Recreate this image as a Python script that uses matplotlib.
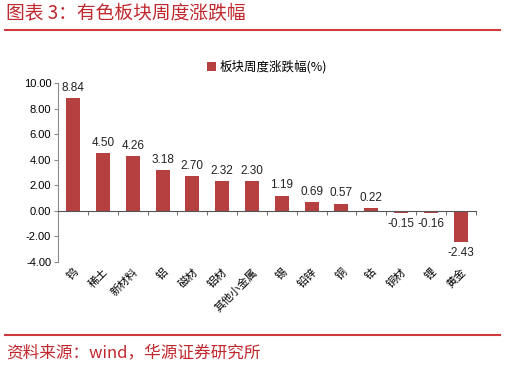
import numpy as np
import matplotlib
matplotlib.use("Agg")
import matplotlib.pyplot as plt
from matplotlib.lines import Line2D

plt.rcParams['font.family'] = ['Noto Sans CJK SC', 'DejaVu Sans']
plt.rcParams['axes.unicode_minus'] = False

# ── dados ─────────────────────────────────────────────────────────────────────
categorias = ['钨', '稀土', '新材料', '铝', '磁材', '铝材', '其他小金属',
              '锡', '铅锌', '铜', '钴', '铜材', '锂', '黄金']
valores = [8.84, 4.50, 4.26, 3.18, 2.70, 2.32, 2.30,
           1.19, 0.69, 0.57, 0.22, -0.15, -0.16, -2.43]
yticks = [-4, -2, 0, 2, 4, 6, 8, 10]

TITULO = '图表 3：有色板块周度涨跌幅'
FONTE = '资料来源：wind，华源证券研究所'
LEGENDA = '板块周度涨跌幅(%)'

COR = {"barra": "#B5403F", "titulo": "#C0282D", "linha": "#D0393E",
       "eixo": "#8C8C8C", "texto": "#222222"}
LATIN = ['Liberation Sans', 'DejaVu Sans']

fig = plt.figure(figsize=(5.06, 3.69), dpi=100)
ax = fig.add_axes([0.115, 0.29, 0.825, 0.485])

x = np.arange(len(categorias))
barras = ax.bar(x, valores, width=0.47, color=COR['barra'], zorder=2)

for xi, v in zip(x, valores):
    if v >= 0:
        ax.annotate(f"{v:.2f}", (xi, v), xytext=(0, 3), textcoords='offset points',
                    ha='center', va='bottom', fontsize=8.5, color=COR['texto'],
                    family=LATIN)
    else:
        ax.annotate(f"-{abs(v):.2f}", (xi, v), xytext=(0, -4), textcoords='offset points',
                    ha='center', va='top', fontsize=8.5, color=COR['texto'],
                    family=LATIN)

ax.set_xlim(-0.5, len(categorias) - 0.5)
ax.set_ylim(-4, 10)
ax.set_yticks(yticks)
ax.set_yticklabels([f"{t:.2f}" if t >= 0 else f"-{abs(t):.2f}" for t in yticks],
                   fontsize=8, family=LATIN)

for s in ['top', 'right']:
    ax.spines[s].set_visible(False)
ax.spines['left'].set_color(COR['eixo'])
ax.spines['bottom'].set_position(('data', 0))
ax.spines['bottom'].set_color('#555555')
ax.tick_params(axis='y', length=3, color=COR['eixo'], pad=2)

# ticks maiores: rótulos abaixo do gráfico; menores: marcas na linha do zero
ax.set_xticks(x)
ax.set_xticklabels(categorias, rotation=45, ha='right', va='top',
                   rotation_mode='anchor', fontsize=8)
ax.tick_params(axis='x', which='major', length=0, pad=40)
ax.set_xticks(np.arange(len(categorias) + 1) - 0.5, minor=True)
ax.tick_params(axis='x', which='minor', length=3, color='#555555', direction='out')

ax.legend([barras], [LEGENDA], loc='upper center', bbox_to_anchor=(0.5, 1.19),
          frameon=False, fontsize=9, handlelength=0.7, handleheight=0.7,
          handletextpad=0.3)

# título, linhas e fonte
fig.text(0.012, 0.962, TITULO, fontsize=13.5, color=COR['titulo'],
         fontweight='medium', va='center', ha='left')
fig.add_artist(Line2D([0.01, 0.988], [0.919, 0.919], color=COR['linha'],
                      lw=1.5, transform=fig.transFigure))
fig.add_artist(Line2D([0.01, 0.988], [0.092, 0.092], color=COR['linha'],
                      lw=1.5, transform=fig.transFigure))
fig.text(0.012, 0.045, FONTE, fontsize=12, color=COR['titulo'],
         va='center', ha='left')

fig.savefig('out.png', dpi=100)
